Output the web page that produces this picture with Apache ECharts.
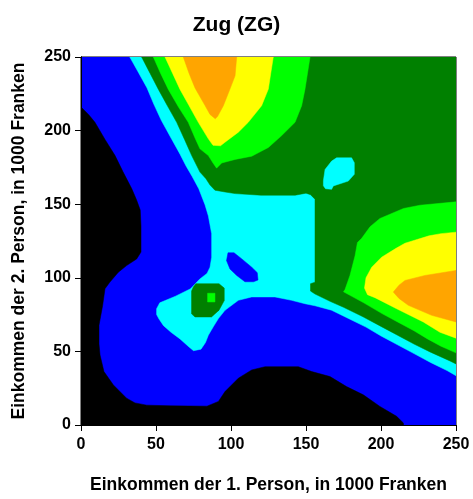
<!DOCTYPE html>
<html>
<head>
<meta charset="utf-8">
<script src="https://cdn.jsdelivr.net/npm/echarts@6/dist/echarts.min.js"></script>
<style>html,body{margin:0;padding:0;background:#fff;}#c{width:473px;height:499px;}</style>
</head>
<body>
<div id="c"></div>
<script>
// Axis ticks
const xTicks = [0, 50, 100, 150, 200, 250];
const yTicks = [0, 50, 100, 150, 200, 250];

// Region boundaries (income of person 1, income of person 2)
const fullArea = [[0,0],[250,0],[250,250],[0,250]];
const blackRegion = [[0,216],[5,211],[9.3,205.6],[16,194],[22.7,183],[28,172],[33.8,160.6],[37,153],[39.5,146],[40,135],[40,117.5],[37.1,112.8],[30.4,108.3],[24.9,103.8],[19.3,97.1],[16,92.6],[14.4,81],[12,67.8],[12,55],[12.7,47.5],[15.3,36.3],[21.6,27.2],[30.4,18.2],[36,15],[43.8,13.5],[60,13],[84,12.8],[91.6,16],[96,22.7],[104.9,31.8],[113.8,37.4],[122.7,39.6],[144.9,39.6],[153.8,36.3],[166,32.9],[177,26.1],[188.2,20.5],[199.3,12.6],[210.4,5.9],[214.9,1.4],[215,0],[0,0]];
const cyanRegion = [[32.5,250],[38,240],[44,229],[48.5,218],[53.5,207],[60,195],[66,184],[70,176],[74,169],[78.5,160.5],[82.7,149.5],[84.9,142],[87.1,130],[87.1,114],[86,107.2],[84,103],[79,99],[73,92.5],[63,87.5],[52.5,83],[50.4,79],[50.4,75],[52,72],[55,67.5],[60,63],[66,58.5],[72,53],[75,50.5],[80,51.5],[83,56],[84.9,61],[88.2,66.7],[91.6,72.3],[96,77.9],[104.9,84.7],[113.8,87],[129.3,87],[140.4,84.7],[149.3,82.4],[156,81],[167,78],[179,72],[190,66.5],[200,60.5],[211,54.5],[222,48.5],[233,42.5],[244,37],[250,33.5],[250,250]];
const blueHole = [[98,117],[102,117],[107,113],[113.8,107.2],[117.5,103.5],[118,98.5],[115,97.3],[109.3,97.3],[103.8,101.6],[99.3,106],[97,111.7]];
const darkGreenRegion = [[40.4,250],[46,239],[51.6,228],[57.5,217],[63.8,205.6],[69,194],[73.8,183],[79.3,171.8],[83.3,167.3],[86,163],[89.3,159.5],[96,158.3],[102.7,157.2],[120,156.1],[142.7,156.1],[150,157.5],[153,156.5],[156,153.4],[156,97],[153,96],[153,91],[156,89],[166,84],[175,80],[188,73.5],[200,67],[211,61],[222,55],[233,49.5],[246,43.5],[250,41.5],[250,250]];
const darkGreenIsland = [[76.5,96],[92,96],[95.5,93],[95.5,84.5],[92,78],[87,73.4],[76,73.4],[73.7,75.5],[73.7,91],[75,94]];
const cyanIsland = [[170.4,181.5],[180.4,181.5],[182.2,178.2],[182.2,170.3],[178.2,165.7],[168.2,162.4],[167.1,160.1],[163,160.5],[161.6,162.5],[161.6,166],[162.7,173.6],[167.1,179.3]];
const greenTop = [[48.2,250],[53,239],[58.2,228],[65,216],[71.5,205.6],[76,195],[79.3,187.6],[84.9,183],[88,178],[90.4,174.5],[93.8,178],[102.7,180.4],[113.8,182.6],[124.9,188.5],[133.8,196.6],[142.7,205.6],[147.1,216.9],[149.3,228],[151,239],[152.7,250]];
const greenSpot = [[84.4,83.6],[89.3,83.6],[89.3,89.5],[84.4,89.5]];
const greenRight = [[250,151.6],[226,149.3],[215,147.1],[199.3,140.3],[192.7,134.7],[187.1,126.8],[184.3,124],[182.7,115],[179.3,101.6],[176,92],[175,90.5],[188.5,83],[201,75.5],[212,69.5],[222,64],[231,58.5],[240,53.5],[250,49]];
const yellowTop = [[56,250],[61,239],[66,228],[72,217],[78.2,205.6],[84.9,194.4],[88,190],[93,189.7],[96,192.1],[104.9,198.9],[111.5,205.6],[120.4,216.9],[124.9,228.2],[126.5,239],[128.2,250]];
const orangeTop = [[68.2,250],[72,239],[76,229],[82.7,217],[86,211],[89.5,208],[91,209.5],[94.9,216.9],[99.3,228.2],[102.7,237.2],[103.8,250]];
const yellowRight = [[250,131],[240,130],[232,128.5],[224,126],[216,123.5],[210,120],[200.4,114],[193.8,107.2],[190,100],[189,93],[191,88.5],[196,86.5],[210.4,79],[228.2,70],[239.3,63],[250,59]];
const orangeRight = [[208.2,90.3],[212,95],[216,98.2],[229.3,101.6],[242.7,103.8],[250,105],[250,70],[233.8,74.5],[218.2,81.3],[212,86]];

const C = {black:'#000000', blue:'#0000ff', cyan:'#00ffff', dkgreen:'#008000', green:'#00ff00', yellow:'#ffff00', orange:'#ffa500'};

const layers = [
  [fullArea, C.blue], [blackRegion, C.black], [cyanRegion, C.cyan], [blueHole, C.blue],
  [darkGreenRegion, C.dkgreen], [darkGreenIsland, C.dkgreen], [cyanIsland, C.cyan],
  [greenTop, C.green], [greenSpot, C.green], [greenRight, C.green],
  [yellowTop, C.yellow], [yellowRight, C.yellow], [orangeTop, C.orange], [orangeRight, C.orange]
];

const font = '"Liberation Sans", Arial, sans-serif';
const chart = echarts.init(document.getElementById('c'));

const series = layers.map(([pts, col]) => ({
  type: 'custom',
  coordinateSystem: 'cartesian2d',
  silent: true,
  clip: true,
  animation: false,
  data: pts,
  renderItem: function (params, api) {
    if (params.dataIndex !== 0) return null;
    return {
      type: 'polygon',
      shape: { points: pts.map(p => api.coord(p)) },
      style: { fill: col, stroke: col, lineWidth: 0.5 }
    };
  }
}));

const axisCommon = {
  type: 'value', min: 0, max: 250, interval: 50, z: 10,
  splitLine: { show: false },
  axisLine: { show: true, lineStyle: { color: '#000', width: 1 } },
  axisTick: { show: true, length: 6, lineStyle: { color: '#000' } },
  nameLocation: 'middle',
  nameTextStyle: { fontFamily: font, fontWeight: 'bold', fontSize: 17.5, color: '#000' }
};

chart.setOption({
  animation: false,
  backgroundColor: '#fff',
  title: { text: 'Zug (ZG)', left: 'center', top: 10,
    textStyle: { fontFamily: font, fontWeight: 'bold', fontSize: 21, color: '#000' } },
  grid: { left: 81, right: 17, top: 57, bottom: 72, show: true, borderColor: '#000', borderWidth: 1 },
  xAxis: [Object.assign({}, axisCommon, {
    name: 'Einkommen der 1. Person, in 1000 Franken', nameGap: 51,
    axisLabel: { margin: 12, fontFamily: font, fontWeight: 'bold', fontSize: 16, color: '#000',
      formatter: v => xTicks.includes(v) ? String(v) : '' }
  }), { type: 'value', min: 0, max: 250, position: 'top', z: 10, axisLine: { show: true, lineStyle: { color: '#000' } }, axisTick: { show: false }, axisLabel: { show: false }, splitLine: { show: false } }],
  yAxis: [Object.assign({}, axisCommon, {
    name: 'Einkommen der 2. Person, in 1000 Franken', nameGap: 53,
    axisLabel: { margin: 10, fontFamily: font, fontWeight: 'bold', fontSize: 16, color: '#000',
      formatter: v => yTicks.includes(v) ? String(v) : '' }
  }), { type: 'value', min: 0, max: 250, position: 'right', z: 10, axisLine: { show: true, lineStyle: { color: '#000' } }, axisTick: { show: false }, axisLabel: { show: false }, splitLine: { show: false } }],
  series: series
});
</script>
</body>
</html>
